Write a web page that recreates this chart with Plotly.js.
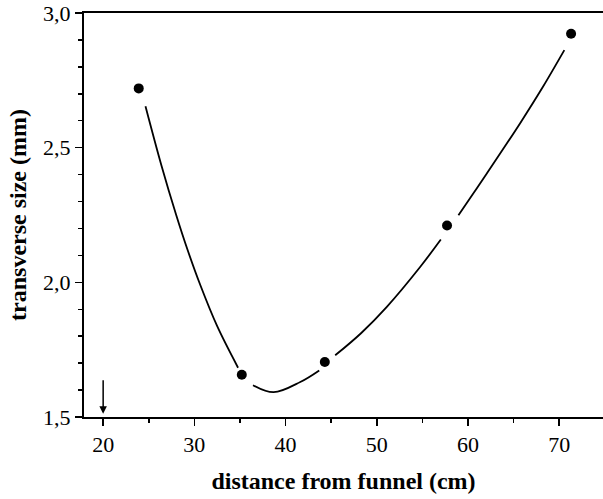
<!DOCTYPE html>
<html>
<head>
<meta charset="utf-8">
<script src="https://cdn.plot.ly/plotly-3.0.1.min.js"></script>
<style>html,body{margin:0;padding:0;background:#fff;}#chart{width:603px;height:499px;}</style>
</head>
<body>
<div id="chart"></div>
<script>
// measured points
const distance = [23.9, 35.2, 44.3, 57.7, 71.3];
const transverseSize = [2.72, 1.657, 1.704, 2.211, 2.923];

// fitted curve (null = gap near a point)
const fitX = [24.64, 26.39, 28.0, 29.27, 30.66, 32.49, 34.79, null,
              36.43, 38.69, 41.61, 43.69, null,
              45.44, 48.3, 51.1, 54.75, 57.02, null,
              58.95, 60.5, 62.06, 65.7, 68.2, 70.56];
const fitY = [2.654, 2.434, 2.251, 2.119, 1.989, 1.838, 1.683, null,
              1.618, 1.592, 1.630, 1.673, null,
              1.729, 1.812, 1.909, 2.057, 2.159, null,
              2.249, 2.326, 2.404, 2.590, 2.725, 2.862];

// arrow marker at the funnel exit
const arrowX = 20;
const arrowFromY = 1.642;
const arrowToY = 1.512;

const xTickVals = [20, 30, 40, 50, 60, 70];
const yTickVals = [1.5, 2.0, 2.5, 3.0];

const font = 'Liberation Serif, Times New Roman, serif';

const traces = [
  {
    x: fitX, y: fitY, type: 'scatter', mode: 'lines',
    line: {color: '#000', width: 1.8, shape: 'spline', smoothing: 1},
    connectgaps: false, hoverinfo: 'skip'
  },
  {
    x: distance, y: transverseSize, type: 'scatter', mode: 'markers',
    marker: {color: '#000', size: 10}
  }
];

const layout = {
  width: 603, height: 499,
  margin: {l: 84, r: 0, t: 13, b: 82},
  paper_bgcolor: '#fff', plot_bgcolor: '#fff',
  showlegend: false,
  separators: ',.',
  font: {family: font, color: '#000', size: 22},
  xaxis: {
    range: [17.9, 74.8],
    tickvals: xTickVals,
    ticks: 'outside', ticklen: 7, tickwidth: 1.5, tickcolor: '#000',
    minor: {dtick: 5, tick0: 0, ticks: 'outside', ticklen: 4, tickwidth: 1.5, tickcolor: '#000'},
    showgrid: false, zeroline: false,
    showline: true, linecolor: '#000', linewidth: 2, mirror: true,
    tickfont: {family: font, size: 22, color: '#000'},
    title: {text: '<b>distance from funnel (cm)</b>', font: {family: font, size: 24, color: '#000'}, standoff: 16}
  },
  yaxis: {
    range: [1.5, 3.0],
    tickvals: yTickVals,
    tickformat: '.1f',
    ticks: 'outside', ticklen: 7, tickwidth: 1.5, tickcolor: '#000',
    minor: {dtick: 0.1, tick0: 0, ticks: 'outside', ticklen: 4, tickwidth: 1.5, tickcolor: '#000'},
    showgrid: false, zeroline: false,
    showline: true, linecolor: '#000', linewidth: 2,
    tickfont: {family: font, size: 22, color: '#000'},
    title: {text: '<b>transverse size (mm)</b>', font: {family: font, size: 24, color: '#000'}, standoff: 10}
  },
  annotations: [{
    x: arrowX, y: arrowToY, ax: arrowX, ay: arrowFromY,
    xref: 'x', yref: 'y', axref: 'x', ayref: 'y',
    text: '', showarrow: true, arrowhead: 2, arrowsize: 1, arrowwidth: 1.5, arrowcolor: '#000'
  }]
};

Plotly.newPlot('chart', traces, layout, {displayModeBar: false, staticPlot: true});
</script>
</body>
</html>
